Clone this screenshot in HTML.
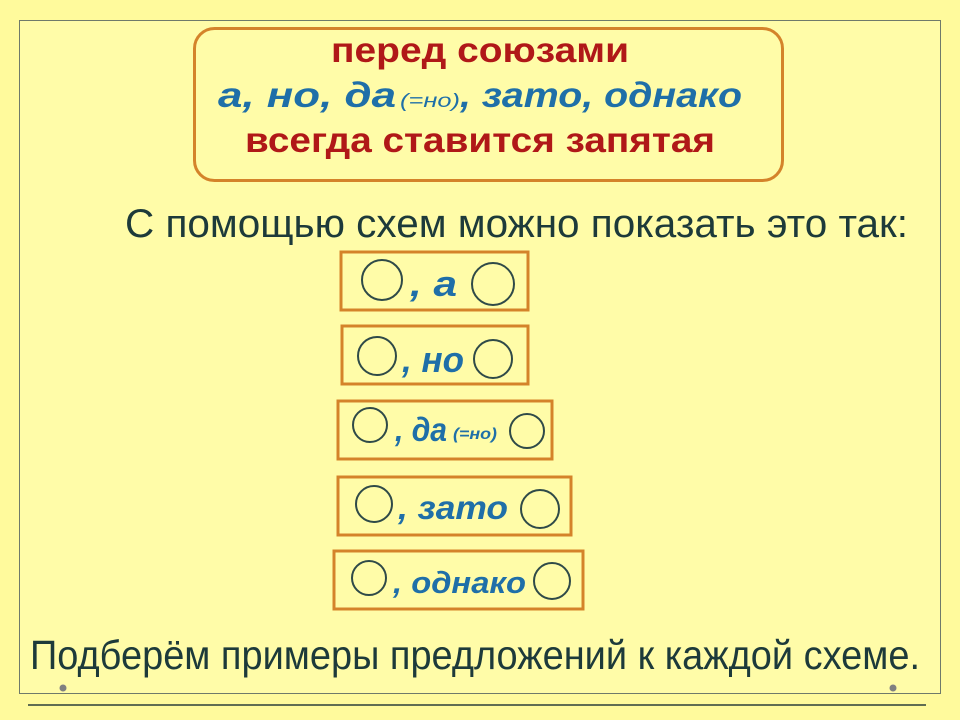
<!DOCTYPE html>
<html><head><meta charset="utf-8"><style>
html,body{margin:0;padding:0;background:#fffa9c;}
svg{display:block}
</style></head><body>
<svg width="960" height="720" viewBox="0 0 960 720" xmlns="http://www.w3.org/2000/svg" font-family="Liberation Sans, sans-serif">
<rect x="0" y="0" width="960" height="720" fill="#fffa9c"/>
<rect x="19.5" y="20.5" width="921" height="673" fill="#fffca8" stroke="#6f7a6a" stroke-width="1"/>
<line x1="28" y1="705" x2="926" y2="705" stroke="#2c3e3a" stroke-width="1.5"/>
<circle cx="63" cy="688" r="3.5" fill="#808080"/>
<circle cx="893" cy="688" r="3.5" fill="#808080"/>
<rect x="194.5" y="28.5" width="588" height="152" rx="20" fill="#fffca8" stroke="#d4832a" stroke-width="3"/>
<g font-weight="bold" font-size="35">
<text x="331" y="62" fill="#b01818" textLength="298" lengthAdjust="spacingAndGlyphs">перед  союзами</text>
<text x="218" y="107" fill="#1f6fa8" font-style="italic" font-size="35"><tspan textLength="178" lengthAdjust="spacingAndGlyphs">а,  но,  да</tspan><tspan x="400" font-size="19" font-weight="normal" textLength="60" lengthAdjust="spacingAndGlyphs">(=но)</tspan><tspan x="460" textLength="282" lengthAdjust="spacingAndGlyphs">, зато,  однако</tspan></text>
<text x="245" y="152" fill="#b01818" textLength="470" lengthAdjust="spacingAndGlyphs">всегда  ставится  запятая</text>
</g>
<text x="125" y="237" fill="#1d3a3a" font-size="40" textLength="783" lengthAdjust="spacingAndGlyphs">С  помощью  схем  можно  показать  это  так:</text>
<text x="30" y="669" fill="#1d3a3a" font-size="41" textLength="890" lengthAdjust="spacingAndGlyphs">Подберём  примеры предложений к каждой  схеме.</text>
<g fill="none" stroke="#d4832a" stroke-width="3">
<rect x="341" y="252" width="187" height="58"/>
<rect x="342" y="326" width="186" height="58"/>
<rect x="338" y="401" width="214" height="58"/>
<rect x="338" y="477" width="233" height="58"/>
<rect x="334" y="551" width="249" height="58"/>
</g>
<g fill="none" stroke="#2f4a48" stroke-width="2">
<circle cx="382" cy="280" r="20"/><circle cx="493" cy="284" r="21"/>
<circle cx="377" cy="356" r="19"/><circle cx="493" cy="359" r="19"/>
<circle cx="370" cy="425" r="17"/><circle cx="527" cy="431" r="17"/>
<circle cx="374" cy="504" r="18"/><circle cx="540" cy="509" r="19"/>
<circle cx="369" cy="578" r="17"/><circle cx="552" cy="581" r="18"/>
</g>
<g fill="#1f6fa8" font-weight="bold" font-style="italic" font-size="36">
<text x="410" y="296" textLength="47" lengthAdjust="spacingAndGlyphs">, а</text>
<text x="402" y="372" textLength="62" lengthAdjust="spacingAndGlyphs">, но</text>
<text x="395" y="441" font-size="33" textLength="52" lengthAdjust="spacingAndGlyphs">, да</text>
<text x="453" y="439" font-size="16" textLength="44" lengthAdjust="spacingAndGlyphs">(=но)</text>
<text x="398" y="519" font-size="33" textLength="110" lengthAdjust="spacingAndGlyphs">,  зато</text>
<text x="393" y="593" font-size="31" textLength="133" lengthAdjust="spacingAndGlyphs">,  однако</text>
</g>
</svg>
</body></html>
